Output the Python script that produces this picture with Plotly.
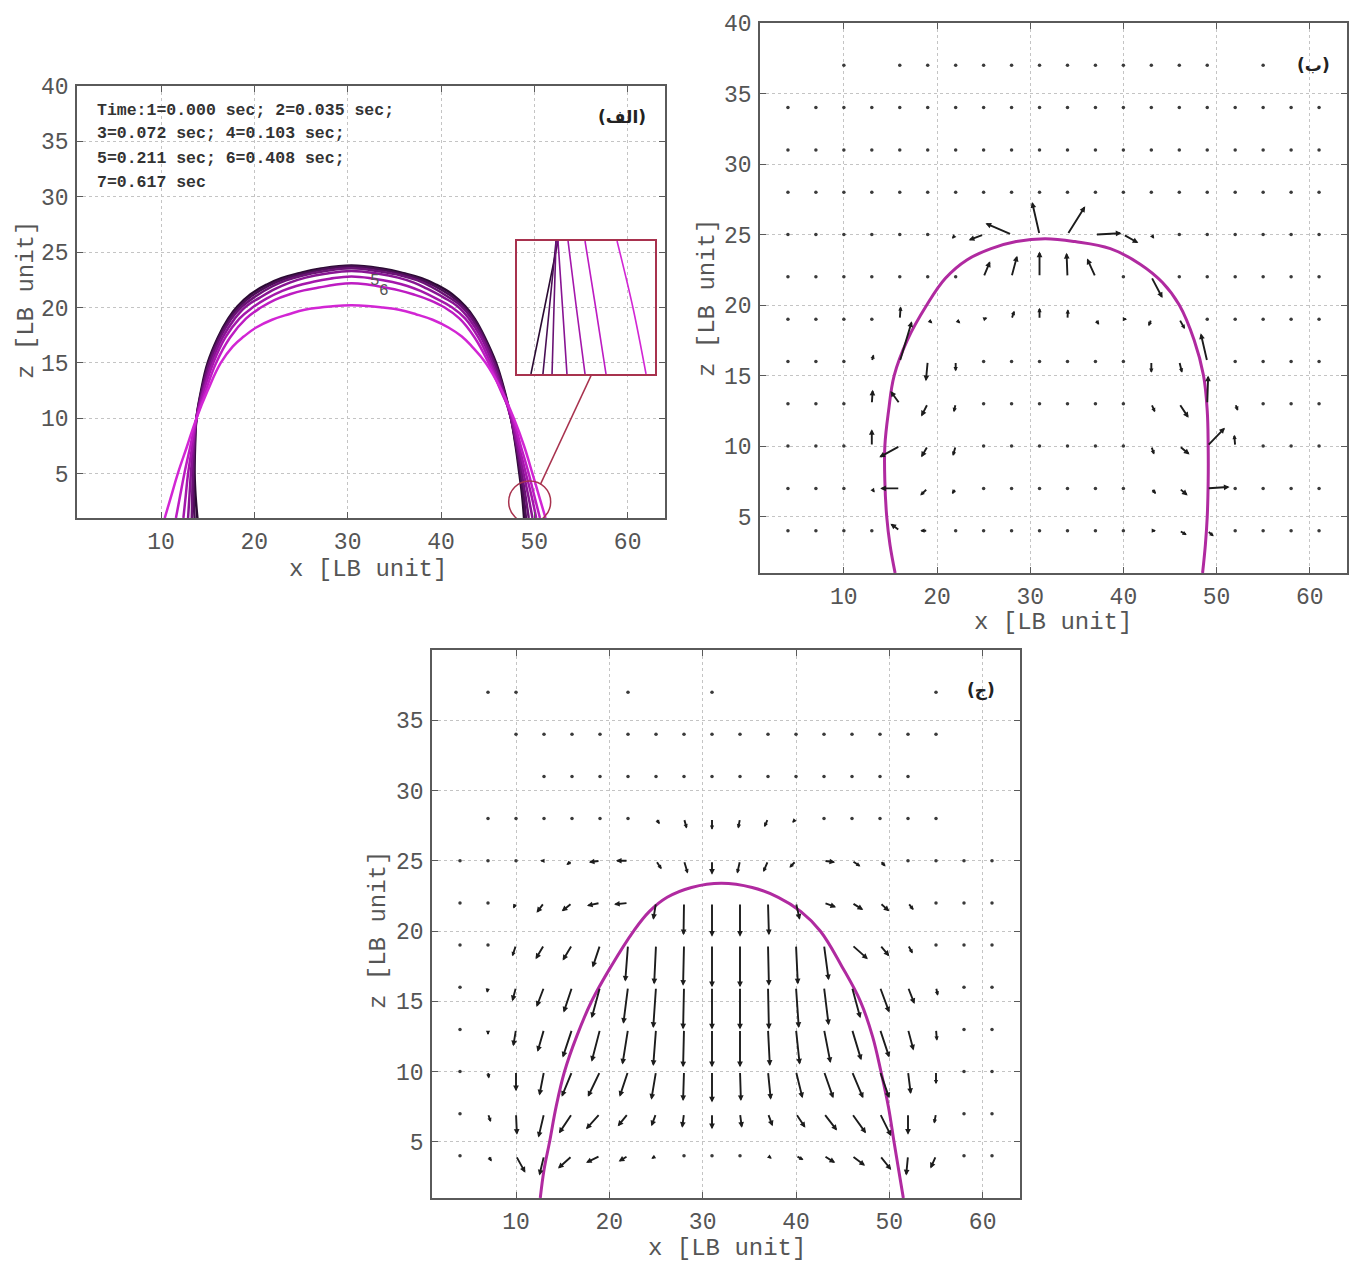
import plotly.graph_objects as go

W, H = 1349, 1263

# ---------------- Panel (الف): interface snapshots ----------------
time_text = ["Time:1=0.000 sec; 2=0.035 sec;",
             "3=0.072 sec; 4=0.103 sec;",
             "5=0.211 sec; 6=0.408 sec;",
             "7=0.617 sec"]

snap_x = [
    [13.9, 13.7, 13.6, 13.65, 13.8, 14.3, 15.0, 16.1, 17.2, 18.2, 19.6, 21.4, 22.9, 24.8, 27.0, 30.4,
     33.8, 36.0, 37.9, 39.4, 41.2, 42.6, 43.6, 44.7, 45.9, 46.8, 47.5, 48.0, 48.4, 48.7, 48.9],
    [13.6, 13.5, 13.5, 13.6, 13.8, 14.35, 15.1, 16.2, 17.35, 18.4, 19.8, 21.6, 23.1, 25.0, 27.1, 30.4,
     33.7, 35.9, 37.7, 39.2, 41.0, 42.4, 43.5, 44.6, 45.8, 46.75, 47.5, 48.05, 48.5, 48.85, 49.1],
    [13.3, 13.35, 13.4, 13.55, 13.8, 14.4, 15.2, 16.35, 17.55, 18.7, 20.1, 21.9, 23.4, 25.2, 27.3, 30.4,
     33.5, 35.7, 37.5, 38.9, 40.7, 42.2, 43.3, 44.5, 45.7, 46.7, 47.5, 48.1, 48.65, 49.05, 49.4],
    [12.9, 13.05, 13.2, 13.45, 13.8, 14.5, 15.4, 16.6, 17.9, 19.1, 20.6, 22.3, 23.8, 25.5, 27.6, 30.4,
     33.3, 35.4, 37.1, 38.5, 40.3, 41.8, 43.0, 44.3, 45.5, 46.6, 47.5, 48.2, 48.85, 49.35, 49.8],
    [12.4, 12.65, 12.9, 13.35, 13.8, 14.6, 15.6, 16.9, 18.4, 19.8, 21.3, 23.0, 24.5, 26.2, 28.1, 30.4,
     32.8, 34.8, 36.4, 37.8, 39.5, 41.2, 42.6, 44.0, 45.3, 46.5, 47.6, 48.35, 49.1, 49.7, 50.2],
    [11.6, 12.05, 12.5, 13.15, 13.8, 14.8, 15.9, 17.4, 19.1, 20.7, 22.2, 23.8, 25.3, 26.9, 28.6, 30.4,
     32.3, 34.0, 35.5, 37.0, 38.7, 40.4, 42.0, 43.6, 45.1, 46.4, 47.7, 48.55, 49.4, 50.0, 50.6],
    [10.4, 11.1, 11.8, 12.8, 13.8, 15.0, 16.4, 17.7, 18.9, 20.2, 21.9, 23.7, 25.4, 27.1, 28.7, 30.4,
     32.1, 33.8, 35.5, 37.3, 39.1, 40.8, 42.2, 43.3, 44.8, 46.5, 47.8, 48.9, 49.8, 50.5, 51.2],
]
snap_z = [
    [1, 3, 5, 7.5, 10, 12.5, 15, 17.3, 19, 20.1, 21.2, 22.1, 22.65, 23.1, 23.5, 23.8,
     23.5, 23.1, 22.65, 22.1, 21.2, 20.1, 19, 17.3, 15, 12.5, 10, 7.5, 5, 3, 1],
    [1, 3, 5, 7.5, 10, 12.5, 15, 17.3, 19, 20.1, 21.1, 22.0, 22.55, 23.0, 23.4, 23.7,
     23.4, 23.0, 22.55, 22.0, 21.1, 20.1, 19, 17.3, 15, 12.5, 10, 7.5, 5, 3, 1],
    [1, 3, 5, 7.5, 10, 12.5, 15, 17.3, 19, 20.1, 21.0, 21.9, 22.45, 22.9, 23.25, 23.55,
     23.25, 22.9, 22.45, 21.9, 21.0, 20.1, 19, 17.3, 15, 12.5, 10, 7.5, 5, 3, 1],
    [1, 3, 5, 7.5, 10, 12.5, 15, 17.3, 19, 20.1, 20.9, 21.7, 22.25, 22.7, 23.05, 23.3,
     23.05, 22.7, 22.25, 21.7, 20.9, 20.1, 19, 17.3, 15, 12.5, 10, 7.5, 5, 3, 1],
    [1, 3, 5, 7.5, 10, 12.5, 15, 17.3, 19, 20.0, 20.8, 21.5, 21.95, 22.3, 22.6, 22.8,
     22.6, 22.3, 21.95, 21.5, 20.8, 20.0, 19, 17.3, 15, 12.5, 10, 7.5, 5, 3, 1],
    [1, 3, 5, 7.5, 10, 12.5, 15, 17.3, 19, 20.0, 20.7, 21.2, 21.55, 21.8, 22.05, 22.2,
     22.05, 21.8, 21.55, 21.2, 20.7, 20.0, 19, 17.3, 15, 12.5, 10, 7.5, 5, 3, 1],
    [1, 3, 5, 7.5, 10, 12.5, 15, 16.5, 17.4, 18.2, 18.9, 19.4, 19.8, 20.0, 20.15, 20.2,
     20.15, 20.0, 19.8, 19.4, 18.9, 18.2, 17.4, 16.5, 15, 12.5, 10, 7.5, 5, 3, 1],
]
snap_colors = ["#2b0b33", "#4a0f55", "#6a1275", "#881493", "#a417ab", "#bd1cc2", "#d226d4"]

curve_labels = ["5", "6"]
curve_label_x = [32.9, 33.9]
curve_label_z = [22.4, 21.5]

# zoomed inset (fraction of inset width at top / middle / bottom)
inset_top = [0.297, 0.283, 0.283, 0.297, 0.370, 0.493, 0.725]
inset_mid = [0.200, 0.235, 0.268, 0.330, 0.430, 0.570, 0.840]
inset_bot = [0.101, 0.188, 0.254, 0.362, 0.493, 0.645, 0.935]

# ---------------- Velocity fields (panels ب and ج) ----------------
grid_x = [4, 7, 10, 13, 16, 19, 22, 25, 28, 31, 34, 37, 40, 43, 46, 49, 52, 55, 58, 61]
grid_z = [37, 34, 31, 28, 25, 22, 19, 16, 13, 10, 7, 4]

N = None
Z20 = [0] * 20
B_u = [
    [N, N, 0, N, 0, 0, 0, 0, 0, 0, 0, 0, 0, 0, 0, 0, N, 0, N, N],
    Z20, Z20, Z20,
    [0, 0, 0, 0, 0, 0, -0.4, -1.6, -2.8, -0.8, 1.9, 2.8, 1.6, 0.3, 0, 0, 0, 0, 0, 0],
    [0, 0, 0, 0, 0, 0, 0, 0.7, 0.6, 0, -0.1, -0.9, 0, 1.2, 0, 0, 0, 0, 0, 0],
    [0, 0, 0, 0, 0.1, 0.5, 0.5, 0.4, 0.3, 0, 0.05, 0.4, 0.4, -0.3, 0.6, 0, 0, 0, 0, 0],
    [0, 0, 0, 0.2, 1.3, -0.2, 0, 0, 0, 0, 0, 0, 0, 0, 0.3, -0.7, 0, 0, 0, 0],
    [0, 0, 0, 0.1, -1.0, -0.7, -0.2, 0, 0, 0, 0, 0, 0, 0.4, 1.0, 0.1, 0.3, 0, 0, 0],
    [0, 0, 0, 0, -2.2, -0.7, -0.3, 0, 0, 0, 0, 0, 0, 0.3, 1.1, 1.9, -0.1, 0, 0, 0],
    [0, 0, 0, 0.3, -2.1, -0.8, -0.4, 0, 0, 0, 0, 0, 0, 0.5, 0.9, 2.4, 0, 0, 0, 0],
    [0, 0, 0, 0, -1.0, -0.8, 0, 0, 0, 0, 0, 0, 0, 0.5, 0.8, 0.7, 0, 0, 0, 0],
]
B_w = [
    [N, N, 0, N, 0, 0, 0, 0, 0, 0, 0, 0, 0, 0, 0, 0, N, 0, N, N],
    Z20, Z20, Z20,
    [0, 0, 0, 0, 0, 0, -0.3, -0.4, 0.8, 2.3, 2.0, 0.1, -0.6, -0.3, 0, 0, 0, 0, 0, 0],
    [0, 0, 0, 0, 0, 0, 0, 1.1, 1.5, 1.8, 1.7, 1.3, 0, -1.5, 0, 0, 0, 0, 0, 0],
    [0, 0, 0, 0, 0.9, -0.3, -0.3, 0.1, 0.6, 0.8, 0.7, -0.4, 0, -0.5, -0.7, 0, 0, 0, 0, 0],
    [0, 0, 0, 0.5, 2.85, -1.4, -0.7, -0.3, 0, 0, 0, 0, 0, -0.8, -0.8, 2.0, 0, 0, 0, 0],
    [0, 0, 0, 1.0, 0.9, -0.9, -0.6, -0.3, 0, 0, 0, 0, 0, -0.6, -1.0, 2.0, -0.5, 0, 0, 0],
    [0, 0, 0, 1.2, -0.8, -0.8, -0.7, 0, 0, 0, 0, 0, 0, -0.6, -0.6, 1.3, 0.8, 0, 0, 0],
    [0, 0, 0, -0.3, 0, -0.5, -0.4, 0, 0, 0, 0, 0, 0, -0.4, -0.5, 0.1, 0, 0, 0, 0],
    [0, 0, 0, 0, 0.5, 0, 0, 0, 0, 0, 0, 0, 0, 0, -0.3, -0.4, 0, 0, 0, 0],
]

C_u = [
    [N, 0, 0, N, N, N, 0, N, N, 0, N, N, N, N, N, N, N, 0, N, N],
    [N, N, 0, 0, 0, 0, 0, 0, 0, 0, 0, 0, 0, 0, 0, 0, 0, 0, N, N],
    [N, N, N, 0, 0, 0, 0, 0, 0, 0, 0, 0, 0, 0, 0, 0, 0, N, N, N],
    [N, 0, 0, 0, 0, 0.2, 0.3, 0.4, 0.3, 0, -0.2, -0.4, -0.4, -0.2, 0, 0, 0, 0, N, N],
    [0, 0, 0, -0.4, -0.6, -1.2, -1.3, 0.6, 0.4, 0, -0.3, -0.5, -0.7, 1.2, 0.9, 0.6, 0.1, 0, 0, 0],
    [0, 0.1, -0.3, -0.8, -1.1, -1.4, -1.5, -0.3, -0.05, 0, 0, 0.1, 0.4, 1.3, 1.2, 1.0, 0.6, 0.1, 0, 0],
    [0, -0.1, -0.4, -0.9, -1.0, -0.8, -0.3, -0.2, -0.1, 0, 0, 0.1, 0.2, 0.5, 1.7, 1.0, 0.5, 0.1, 0, 0],
    [0, -0.1, -0.4, -0.8, -0.9, -0.9, -0.5, -0.3, -0.1, 0, 0, 0.1, 0.3, 0.5, 0.9, 1.0, 0.7, 0.2, 0.05, 0],
    [0, 0, -0.3, -0.7, -1.0, -0.9, -0.6, -0.3, -0.1, 0, 0, 0.2, 0.4, 0.7, 1.0, 1.0, 0.6, 0.1, 0, 0],
    [0, 0.1, 0, -0.5, -1.1, -1.3, -0.9, -0.5, -0.1, 0, 0.1, 0.3, 0.7, 1.0, 1.2, 1.0, 0.3, 0, 0, 0],
    [0, 0.3, 0.1, -0.6, -1.4, -1.5, -1.1, -0.5, -0.2, 0, 0.2, 0.5, 1.0, 1.4, 1.5, 1.2, 0, -0.2, 0, 0],
    [0, 0.4, 1.0, -0.5, -1.5, -1.5, -1.0, -0.5, -0.2, 0, 0.2, 0.4, 0.8, 1.2, 1.4, 1.2, -0.2, -0.6, 0, 0],
]
C_w = [
    [N, 0, 0, N, N, N, 0, N, N, 0, N, N, N, N, N, N, N, 0, N, N],
    [N, N, 0, 0, 0, 0, 0, 0, 0, 0, 0, 0, 0, 0, 0, 0, 0, 0, N, N],
    [N, N, N, 0, 0, 0, 0, 0, 0, 0, 0, 0, 0, 0, 0, 0, 0, N, N, N],
    [N, 0, 0, 0, 0, 0, -0.1, -0.4, -0.7, -0.8, -0.7, -0.6, -0.3, -0.1, 0, 0, 0, 0, N, N],
    [0, 0, 0, 0, -0.3, -0.1, 0, -0.6, -0.9, -1.0, -0.9, -0.8, -0.5, -0.1, -0.4, -0.4, 0, 0, 0, 0],
    [0, -0.1, -0.4, -0.7, -0.6, -0.2, -0.1, -1.2, -2.3, -2.4, -2.4, -2.3, -1.2, -0.3, -0.5, -0.6, -0.5, -0.1, 0, 0],
    [0, -0.3, -0.8, -1.0, -1.1, -1.6, -2.6, -2.8, -2.9, -3.0, -3.0, -2.9, -2.8, -2.5, -1.0, -0.8, -0.6, -0.3, 0, 0],
    [0, -0.4, -1.0, -1.4, -1.8, -2.2, -2.6, -2.9, -3.0, -3.0, -3.0, -3.0, -2.9, -2.7, -2.2, -1.8, -1.2, -0.6, -0.1, 0],
    [0, -0.4, -1.2, -1.6, -2.0, -2.3, -2.5, -2.6, -2.7, -2.7, -2.7, -2.6, -2.5, -2.4, -2.2, -2.0, -1.5, -0.8, -0.1, 0],
    [0, -0.5, -1.4, -1.7, -1.8, -1.8, -1.8, -2.0, -2.1, -2.2, -2.1, -2.0, -1.9, -1.9, -1.9, -1.9, -1.6, -0.9, -0.1, 0],
    [0, -0.6, -1.5, -1.7, -1.4, -1.1, -0.9, -0.9, -1.0, -1.1, -1.0, -0.9, -1.0, -1.2, -1.4, -1.6, -1.5, -0.7, 0, 0],
    [0, -0.4, -1.2, -1.4, -0.9, -0.5, -0.4, -0.2, -0.1, -0.1, -0.1, -0.2, -0.3, -0.5, -0.7, -1.0, -1.4, -0.9, 0, 0],
]

# interface shapes in panels ب and ج
B_iface_x = [15.5, 14.95, 14.6, 14.4, 14.4, 14.8, 15.4, 16.8, 18.9, 20.9, 23.2, 25.8, 28.5, 31.6,
             34.8, 38.6, 41.8, 44.2, 46.0, 47.6, 48.6, 49.0, 49.1, 49.1, 49.0, 48.8, 48.5]
B_iface_z = [1, 3, 5, 7.5, 10, 12.5, 15, 17.5, 20, 21.9, 23.2, 24.0, 24.5, 24.7,
             24.5, 24.0, 22.9, 21.6, 20, 17.5, 15, 12.5, 10, 7.5, 5, 3, 1]
C_iface_x = [12.6, 13.0, 13.6, 14.3, 15.2, 16.5, 18.1, 20.2, 22.6, 24.3, 26.2, 28.8, 32.0,
             35.3, 38.1, 40.5, 42.6, 44.9, 46.9, 48.2, 49.1, 49.9, 50.5, 51.0, 51.5]
C_iface_z = [1, 3, 5, 7.5, 10, 12.5, 15, 17.5, 20, 21.4, 22.4, 23.1, 23.4,
             23.1, 22.4, 21.4, 20, 17.5, 15, 12.5, 10, 7.5, 5, 3, 1]

x_ticks = [10, 20, 30, 40, 50, 60]
z_ticks_full = [5, 10, 15, 20, 25, 30, 35, 40]
z_ticks_c = [5, 10, 15, 20, 25, 30, 35]

# ---------------- layout helpers ----------------
def px_x(a, b):
    return [a / W, b / W]

def px_y(top, bottom):
    return [1 - bottom / H, 1 - top / H]

MONO = "Liberation Mono, Courier New, monospace"
AXC = "#5a5a5a"

def axis(domain, rng, ticks, anchor):
    return dict(domain=domain, range=rng, tickvals=ticks, anchor=anchor, automargin=False,
                showline=True, linecolor=AXC, linewidth=1.5, mirror="ticks",
                ticks="inside", ticklen=6, tickcolor=AXC, tickwidth=1.2,
                showgrid=True, gridcolor="#c4c4c4", griddash="dot", gridwidth=1,
                zeroline=False, ticklabelstandoff=2,
                tickfont=dict(family=MONO, size=23, color="#555555"))

fig = go.Figure()

for cx, cz, col in zip(snap_x, snap_z, snap_colors):
    fig.add_trace(go.Scatter(x=cx, y=cz, mode="lines", xaxis="x", yaxis="y",
                             line=dict(color=col, width=2.5, shape="spline", smoothing=1.2),
                             showlegend=False, hoverinfo="skip"))

for t, m, b, col in zip(inset_top, inset_mid, inset_bot, snap_colors):
    fig.add_trace(go.Scatter(x=[t, m, b], y=[1, 0.5, 0], mode="lines", xaxis="x4", yaxis="y4",
                             line=dict(color=col, width=1.6, shape="spline"),
                             showlegend=False, hoverinfo="skip"))

for ix, iz, xa, ya in [(B_iface_x, B_iface_z, "x2", "y2"), (C_iface_x, C_iface_z, "x3", "y3")]:
    fig.add_trace(go.Scatter(x=ix, y=iz, mode="lines", xaxis=xa, yaxis=ya,
                             line=dict(color="#b02aa0", width=3, shape="spline", smoothing=1.1),
                             showlegend=False, hoverinfo="skip"))

annotations = []

def add_quiver(U, Wv, xa, ya):
    dx, dz = [], []
    for i, z in enumerate(grid_z):
        for j, x in enumerate(grid_x):
            du, dw = U[i][j], Wv[i][j]
            if du is None:
                continue
            mag = (du * du + dw * dw) ** 0.5
            if mag < 0.35:
                dx.append(x)
                dz.append(z)
            else:
                annotations.append(dict(x=x + du, y=z + dw, ax=x, ay=z,
                                        xref=xa, yref=ya, axref=xa, ayref=ya,
                                        showarrow=True, arrowhead=2,
                                        arrowsize=0.6 if mag >= 1.0 else 0.45,
                                        arrowwidth=1.9, arrowcolor="#1c1c1c",
                                        text="", standoff=0, startstandoff=0))
    fig.add_trace(go.Scatter(x=dx, y=dz, mode="markers", xaxis=xa, yaxis=ya,
                             marker=dict(size=3.5, color="#3a3a3a"),
                             showlegend=False, hoverinfo="skip"))

add_quiver(B_u, B_w, "x2", "y2")
add_quiver(C_u, C_w, "x3", "y3")

time_y = [111, 134, 158, 182]
for txt, yy in zip(time_text, time_y):
    annotations.append(dict(text="<b>" + txt + "</b>", xref="paper", yref="paper",
                            x=95 / W, y=1 - yy / H, xanchor="left", yanchor="middle",
                            showarrow=False, font=dict(family=MONO, size=16.5, color="#333333")))
for t, lx, lz in zip(curve_labels, curve_label_x, curve_label_z):
    annotations.append(dict(text=t, x=lx, y=lz, xref="x", yref="y", showarrow=False,
                            font=dict(family=MONO, size=16, color="#555555")))

for txt, px, py in [("(الف)", 622, 117), ("(ب)", 1313, 65), ("(ج)", 981, 690)]:
    annotations.append(dict(text="<b>" + txt + "</b>", xref="paper", yref="paper",
                            x=px / W, y=1 - py / H, xanchor="center", yanchor="middle",
                            showarrow=False,
                            font=dict(family="DejaVu Sans", size=17, color="#222222")))

for px, py in [(368, 569), (1053, 623), (727, 1248)]:
    annotations.append(dict(text="x [LB unit]", xref="paper", yref="paper",
                            x=px / W, y=1 - py / H, xanchor="center", yanchor="middle",
                            showarrow=False, font=dict(family=MONO, size=24, color="#555555")))
for px, py in [(26, 300), (707, 298), (378, 930)]:
    annotations.append(dict(text="z [LB unit]", xref="paper", yref="paper", textangle=-90,
                            x=px / W, y=1 - py / H, xanchor="center", yanchor="middle",
                            showarrow=False, font=dict(family=MONO, size=24, color="#555555")))

ZC = "#a8324e"
shapes = [
    dict(type="circle", xref="x", yref="y", x0=47.25, x1=51.75, y0=0.55, y1=4.35,
         line=dict(color=ZC, width=1.5)),
    dict(type="line", xref="x", yref="y", x0=50.65, y0=4.03, x1=56.1, y1=13.9,
         line=dict(color=ZC, width=1.5)),
]

fig.update_layout(
    width=W, height=H, margin=dict(l=0, r=0, t=0, b=0, autoexpand=False),
    paper_bgcolor="white", plot_bgcolor="rgba(0,0,0,0)",
    showlegend=False,
    xaxis=axis(px_x(77, 665), [1, 64], x_ticks, "y"),
    yaxis=axis(px_y(86, 518), [1, 40], z_ticks_full, "x"),
    xaxis2=axis(px_x(760, 1347), [1, 64], x_ticks, "y2"),
    yaxis2=axis(px_y(23, 573), [1, 40], z_ticks_full, "x2"),
    xaxis3=axis(px_x(432, 1020), [1, 64], x_ticks, "y3"),
    yaxis3=axis(px_y(650, 1198), [1, 40], z_ticks_c, "x3"),
    xaxis4=dict(domain=px_x(517, 655), range=[0, 1], anchor="y4", showline=True, linecolor=ZC,
                linewidth=1.5, mirror=True, showticklabels=False, ticks="", showgrid=False,
                zeroline=False, automargin=False),
    yaxis4=dict(domain=px_y(241, 374), range=[0, 1], anchor="x4", showline=True, linecolor=ZC,
                linewidth=1.5, mirror=True, showticklabels=False, ticks="", showgrid=False,
                zeroline=False, automargin=False),
    annotations=annotations,
    shapes=shapes,
)

fig.write_html("out.html")
